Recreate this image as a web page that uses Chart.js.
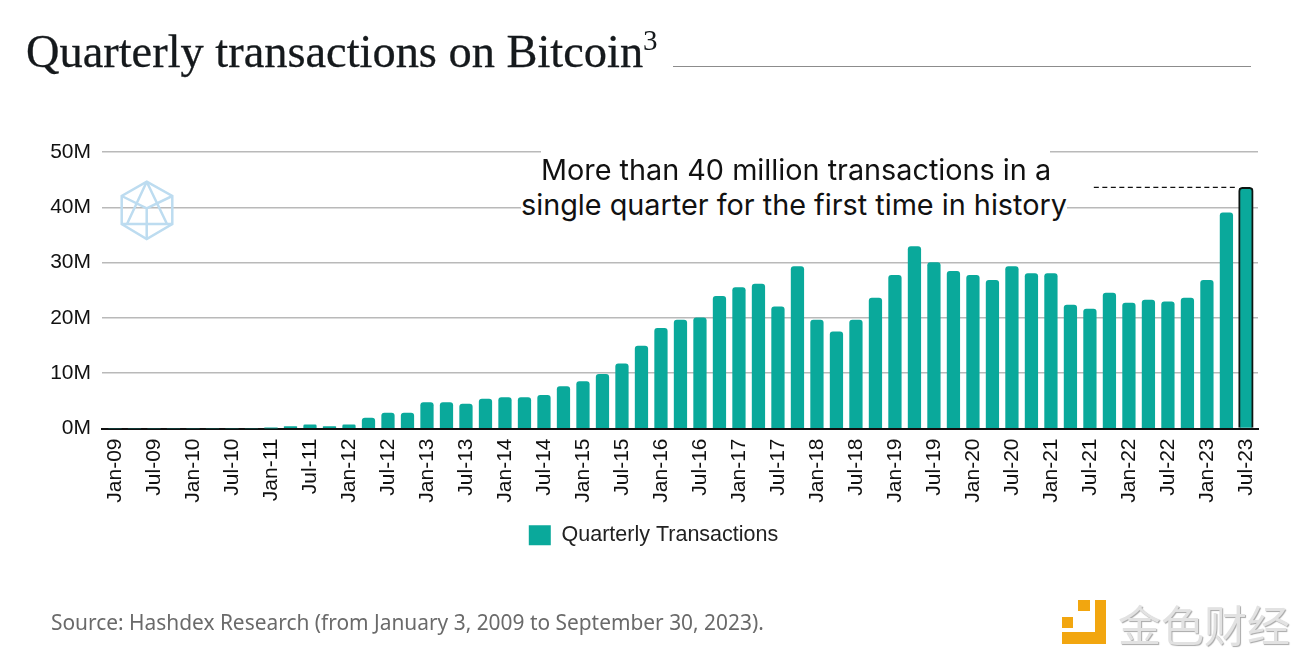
<!DOCTYPE html>
<html><head><meta charset="utf-8">
<style>
html,body{margin:0;padding:0;background:#fff;width:1303px;height:658px;overflow:hidden}
#wrap{position:relative;width:1303px;height:658px}
canvas{position:absolute;left:0;top:0}
.t{position:absolute;white-space:nowrap}
#title{left:26px;top:24px;font:46.4px/56px "Liberation Serif",serif;color:#15191c;-webkit-text-stroke:.3px #15191c}
#title sup{font-size:29px;line-height:0;vertical-align:17px;-webkit-text-stroke:0}
#rule{position:absolute;left:673px;top:66px;width:578px;height:1px;background:#8c8c8c}
.note{font:28.8px/35px Inter,"Noto Sans",sans-serif;color:#111;background:#fff}
#source{left:51px;top:609px;font:20.9px/26px "Noto Sans",sans-serif;color:#6a6a6a}
#jinse{left:1118px;top:597px;font:43px/52px "Noto Sans CJK SC",sans-serif;color:#e2e2e2;text-shadow:1px 1px 1px #a8a8a8}
svg{position:absolute}
</style></head><body><div id="wrap">
<canvas id="c" width="1303" height="658"></canvas>
<div class="t" id="title">Quarterly transactions on Bitcoin<sup>3</sup></div>
<div id="rule"></div>
<div class="t note" id="n1" style="left:541px;top:150px;width:509px;padding-top:2px">More than 40 million transactions in a</div>
<div class="t note" id="n2" style="left:521px;top:187px">single quarter for the first time in history</div>
<svg style="left:118px;top:179px" width="58" height="62" viewBox="0 0 58 62" fill="none" stroke="#bddcf0" stroke-width="2.5">
<path d="M28.7 2.7 L54.3 17 V45 L28.7 60 L3.7 45 V17 Z"/>
<path d="M28.7 2.7 L9 45 M28.7 2.7 L49 45 M3.7 45 H54.3 M3.7 17 L28.7 29.3 L54.3 17 M28.7 29.3 V60"/>
</svg>
<div class="t" id="source">Source: Hashdex Research (from January 3, 2009 to September 30, 2023).</div>
<svg style="left:1060px;top:598px" width="50" height="48" viewBox="0 0 50 48" fill="#f2a60f">
<path d="M18 2 H30 V13 H18 Z M2 19 H13 V30 H2 Z M35 2 H46 V46 H2 V34 H35 Z"/>
</svg>
<div class="t" id="jinse">金色财经</div>
</div>
<script src="https://cdn.jsdelivr.net/npm/chart.js@4"></script>
<script>
const categories = ["Jan-09","Apr-09","Jul-09","Oct-09","Jan-10","Apr-10","Jul-10","Oct-10","Jan-11","Apr-11","Jul-11","Oct-11","Jan-12","Apr-12","Jul-12","Oct-12","Jan-13","Apr-13","Jul-13","Oct-13","Jan-14","Apr-14","Jul-14","Oct-14","Jan-15","Apr-15","Jul-15","Oct-15","Jan-16","Apr-16","Jul-16","Oct-16","Jan-17","Apr-17","Jul-17","Oct-17","Jan-18","Apr-18","Jul-18","Oct-18","Jan-19","Apr-19","Jul-19","Oct-19","Jan-20","Apr-20","Jul-20","Oct-20","Jan-21","Apr-21","Jul-21","Oct-21","Jan-22","Apr-22","Jul-22","Oct-22","Jan-23","Apr-23","Jul-23"];
const quarterly = [0,0,0,0,0,0,0,0,0.01,0.35,0.65,0.35,0.65,1.9,2.8,2.8,4.7,4.7,4.4,5.3,5.6,5.6,6.0,7.6,8.5,9.8,11.7,14.9,18.1,19.6,20.0,23.9,25.5,26.1,22.0,29.3,19.6,17.5,19.6,23.6,27.7,32.9,30.0,28.4,27.7,26.8,29.3,28.0,28.0,22.3,21.6,24.5,22.7,23.2,22.9,23.6,26.8,39.0,43.6];
const seriesName = "Quarterly Transactions";
const lastIndex = quarterly.length - 1;
const noteLevel = quarterly[lastIndex];
const noteFrom = 50.2, noteTo = 57.5;
const barColor = "#0aa99b";

new Chart(document.getElementById('c'), {
  data: { datasets: [
    { type:'bar', label: seriesName, order:3, grouped:false,
      data: quarterly.map((v,i)=>({x:i,y:v})).filter(p=>p.x!==lastIndex),
      backgroundColor: barColor, borderWidth:0,
      borderRadius:{topLeft:3,topRight:3,bottomLeft:0,bottomRight:0},
      barThickness:12.6 },
    { type:'bar', label:'highlight', order:2, grouped:false,
      data:[{x:lastIndex,y:quarterly[lastIndex]}],
      backgroundColor: barColor, borderColor:"#0c1512", borderWidth:2, borderSkipped:'bottom',
      borderRadius:{topLeft:4,topRight:4,bottomLeft:0,bottomRight:0},
      barThickness:14.6 },
    { type:'line', label:'note', order:1,
      data:[{x:noteFrom,y:noteLevel},{x:noteTo,y:noteLevel}],
      borderColor:'#111', borderWidth:1.3, borderDash:[5,3.5], pointRadius:0 }
  ]},
  options: {
    responsive:false, animation:false, devicePixelRatio:1,
    layout:{padding:{left:49,right:45,top:152,bottom:102}},
    plugins:{
      tooltip:{enabled:false},
      legend:{position:'bottom',
        labels:{boxWidth:22,boxHeight:20,padding:14,color:'#222',font:{family:'"Liberation Sans"',size:21.5},
          generateLabels:(ch)=>[{text:seriesName,fillStyle:barColor,strokeStyle:barColor,lineWidth:0,datasetIndex:0,fontColor:'#222'}]}}
    },
    scales:{
      x:{type:'linear',min:-0.667,max:58.62,offset:false,
        afterBuildTicks:(s)=>{s.ticks=categories.map((c,i)=>({value:i})).filter(t=>t.value%2===0);},
        afterFit:(s)=>{s.height=82;},
        grid:{display:false,drawTicks:false},
        border:{color:'#111',width:2},
        ticks:{autoSkip:false,maxRotation:90,minRotation:90,padding:10,color:'#111',font:{family:'"Liberation Sans"',size:21},
          callback:(v)=>categories[v]}},
      y:{min:0,max:50,
        afterFit:(s)=>{s.width=53;},
        ticks:{stepSize:10,padding:11,color:'#111',font:{family:'"Liberation Sans"',size:21},callback:v=>v+'M'},
        grid:{color:'#b9b9b9',lineWidth:1.5,drawTicks:false},
        border:{display:false}}
    }
  }
});
</script></body></html>
